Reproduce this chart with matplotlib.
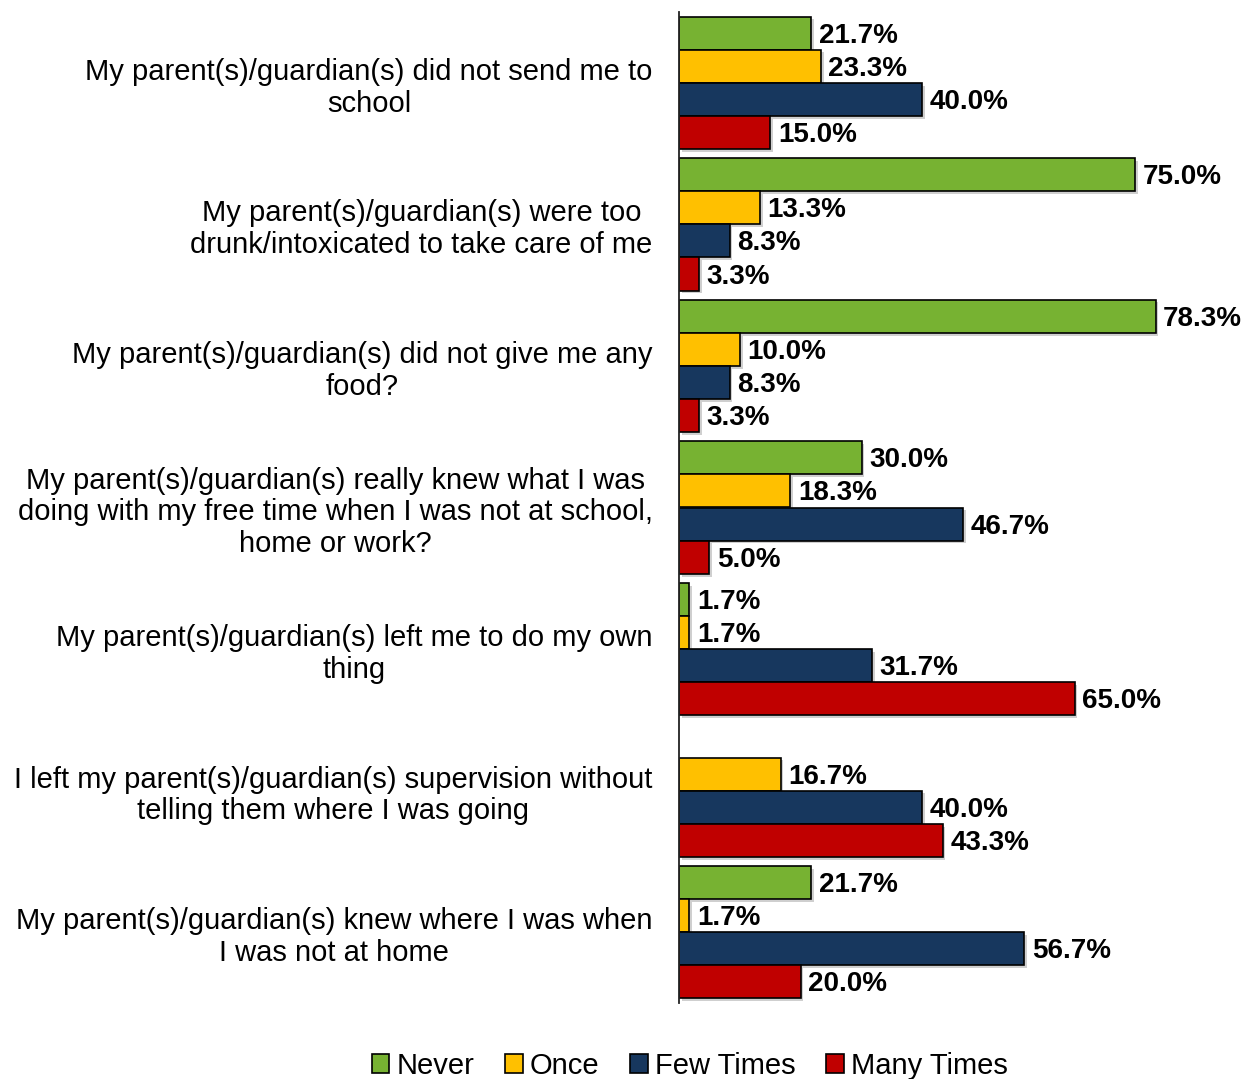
import matplotlib
matplotlib.use("Agg")
import matplotlib.pyplot as plt
import matplotlib.patheffects as pe
from matplotlib.patches import Patch
import numpy as np

plt.rcParams['font.family'] = ['Liberation Sans', 'DejaVu Sans']

categories = [
    "My parent(s)/guardian(s) did not send me to\nschool",
    "My parent(s)/guardian(s) were too\ndrunk/intoxicated to take care of me",
    "My parent(s)/guardian(s) did not give me any\nfood?",
    "My parent(s)/guardian(s) really knew what I was\ndoing with my free time when I was not at school,\nhome or work?",
    "My parent(s)/guardian(s) left me to do my own\nthing",
    "I left my parent(s)/guardian(s) supervision without\ntelling them where I was going",
    "My parent(s)/guardian(s) knew where I was when\nI was not at home",
]
series_names = ["Never", "Once", "Few Times", "Many Times"]
never = [21.7, 75.0, 78.3, 30.0, 1.7, 0.0, 21.7]
once = [23.3, 13.3, 10.0, 18.3, 1.7, 16.7, 1.7]
few_times = [40.0, 8.3, 8.3, 46.7, 31.7, 40.0, 56.7]
many_times = [15.0, 3.3, 3.3, 5.0, 65.0, 43.3, 20.0]
colors = ["#77B232", "#FFC000", "#17375E", "#C00000"]

fig = plt.figure(figsize=(12.52, 10.79), dpi=100)
ax = fig.add_axes([679 / 1252, 1 - 1003 / 1079, 566 / 1252, 991 / 1079])

y = np.arange(len(categories))
bh = 0.234
shadow = [pe.SimplePatchShadow(offset=(2, -2), shadow_rgbFace='#888888', alpha=0.4), pe.Normal()]

for k, (name, vals, col) in enumerate(zip(series_names, [never, once, few_times, many_times], colors)):
    pos = y + (k - 1.5) * bh
    for p, v in zip(pos, vals):
        if v <= 0:
            continue
        bar = ax.barh(p, v, height=bh, color=col, edgecolor='black', linewidth=1.2)
        bar[0].set_path_effects(shadow)
        ax.annotate(f"{v:.1f}%", xy=(v, p), xytext=(5.5, -1.8), textcoords='offset points',
                    ha='left', va='center', fontsize=20, fontweight='bold', color='black')

ax.set_xlim(0, 93)
ax.set_ylim(len(categories) - 0.5, -0.5)
ax.set_xticks([])
ax.set_yticks(y)
ax.set_yticklabels(categories, fontsize=21, ha='right', multialignment='center', linespacing=1.17)
ax.tick_params(axis='y', length=0, pad=19)
for s in ['top', 'right', 'bottom']:
    ax.spines[s].set_visible(False)
ax.spines['left'].set_linewidth(1.3)
ax.spines['left'].set_color('#222222')

handles = [Patch(facecolor=c, edgecolor='black', linewidth=1.2) for c in colors]
fig.legend(handles, series_names, loc='center', bbox_to_anchor=(690 / 1252, 1 - 1066 / 1079),
           ncol=4, frameon=False, fontsize=21, handlelength=0.6, handleheight=0.6,
           handletextpad=0.25, columnspacing=1.05, borderaxespad=0)

fig.savefig("out.png", dpi=100)
